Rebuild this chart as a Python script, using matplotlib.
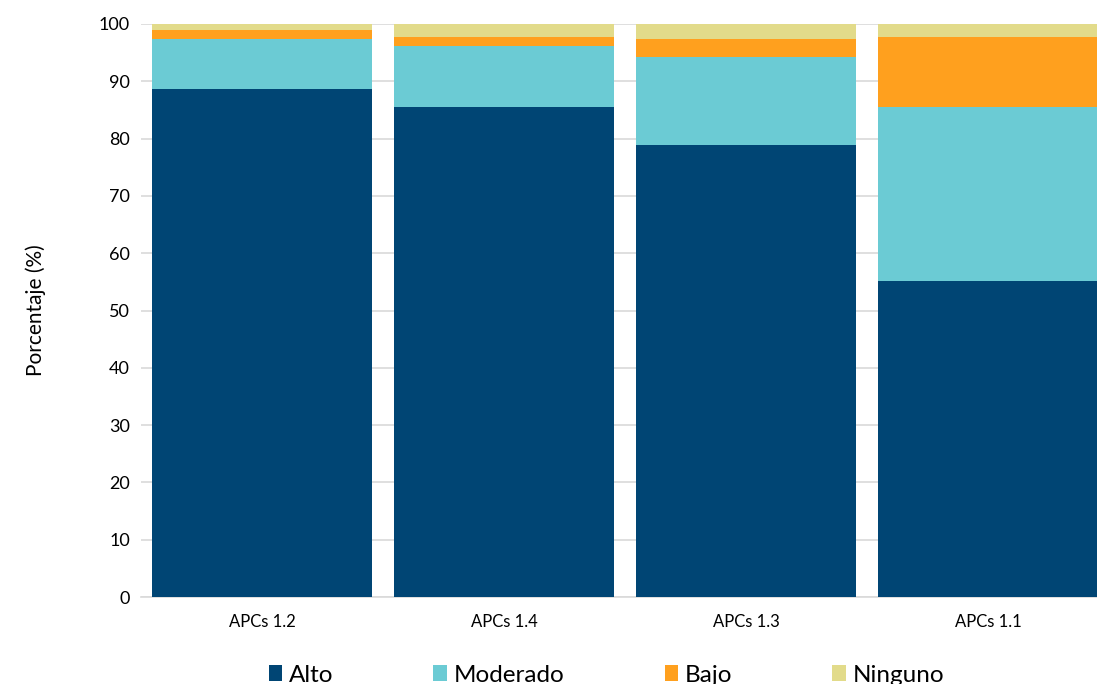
import matplotlib
matplotlib.use("Agg")
import matplotlib.pyplot as plt
import numpy as np

categories = ["APCs 1.2", "APCs 1.4", "APCs 1.3", "APCs 1.1"]
series_names = ["Alto", "Moderado", "Bajo", "Ninguno"]
alto = [88.7, 85.5, 78.9, 55.2]
moderado = [8.6, 10.7, 15.3, 30.3]
bajo = [1.6, 1.6, 3.1, 12.3]
ninguno = [1.1, 2.2, 2.7, 2.2]
colors = ["#004574", "#6BCBD4", "#FFA01E", "#E2DB8A"]
yticks = [0, 10, 20, 30, 40, 50, 60, 70, 80, 90, 100]

plt.rcParams['font.family'] = ['Lato', 'DejaVu Sans']

fig = plt.figure(figsize=(10.97, 6.84), dpi=100)
ax = fig.add_axes([141/1097, 1-597/684, (1109-141)/1097, (597-24)/684])

x = np.arange(len(categories))
bottom = np.zeros(len(categories))
handles = []
for name, vals, c in zip(series_names, [alto, moderado, bajo, ninguno], colors):
    b = ax.bar(x, vals, width=0.91, bottom=bottom, color=c, label=name, zorder=3)
    handles.append(b)
    bottom += np.array(vals)

ax.set_xlim(-0.5, len(categories) - 0.5)
ax.set_ylim(0, 100)
ax.set_yticks(yticks)
ax.set_yticklabels([str(t) for t in yticks], fontsize=13)
ax.set_xticks(x)
ax.set_xticklabels(categories, fontsize=12)
ax.tick_params(axis='both', length=0, pad=8)
ax.tick_params(axis='x', pad=12)
ax.yaxis.grid(True, color="#D9D9D9", linewidth=1.2, zorder=0)
for s in ["top", "right", "left"]:
    ax.spines[s].set_visible(False)
ax.spines["bottom"].set_color("#D9D9D9")
ax.spines["bottom"].set_linewidth(1.2)
ax.set_ylabel("Porcentaje (%)", fontsize=15, labelpad=38)

fig.legend(handles=handles, labels=series_names, loc="center",
           bbox_to_anchor=(0.553, 1-675/684), ncol=4, frameon=False,
           fontsize=17.5, handlelength=0.55, handleheight=0.6, handletextpad=0.3,
           columnspacing=4.1)

fig.savefig("out.png", dpi=100)
